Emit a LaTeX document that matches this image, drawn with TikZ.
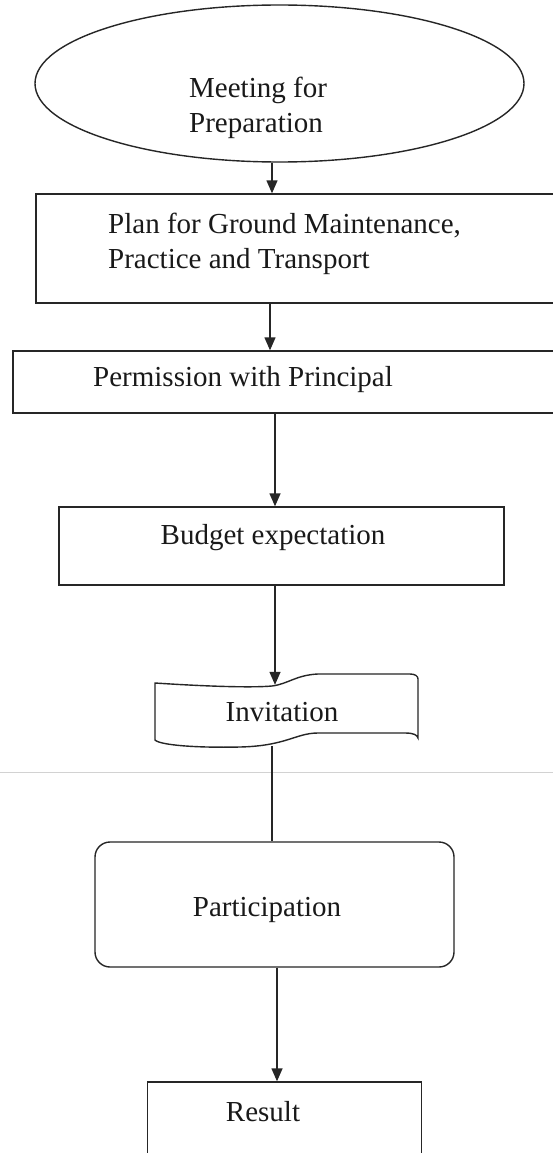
\documentclass[tikz,border=0pt]{standalone}
\usepackage{fontspec}
\setmainfont{Liberation Serif}
\usetikzlibrary{arrows.meta,shapes.geometric}
\begin{document}
\begin{tikzpicture}[x=1pt,y=-1pt,
  every node/.style={font=\fontsize{29}{35}\selectfont, inner sep=0pt, text=black!90},
  shp/.style={draw=black!85, line width=1.4pt},
  lbl/.style={align=left},
  conn/.style={draw=black!85, line width=1.4pt},
  arr/.style={conn, -{Triangle[length=13pt,width=11pt]}}]
\clip (0,0) rectangle (553,1153);
\fill[white] (0,0) rectangle (553,1153);
% scan fold line
\draw[gray!35, line width=0.8pt] (0,772) -- (553,772);

% shapes
\node[shp, ellipse, minimum width=489pt, minimum height=157pt] (meet) at (279.5,83.5) {};
\node[shp, rectangle, minimum width=544pt, minimum height=109pt] (plan) at (308,248.5) {};
\node[shp, rectangle, minimum width=567pt, minimum height=62pt] (perm) at (296.5,382) {};
\node[shp, rectangle, minimum width=445pt, minimum height=78pt] (budget) at (281.5,546) {};
\node[rectangle, minimum width=263pt, minimum height=61pt] (inv) at (286.5,715.5) {};
\draw[shp] (155,683) .. controls (200,686) and (250,688) .. (272,686)
  .. controls (288,684) and (296,675) .. (318,674) -- (410,674)
  .. controls (415,674) and (418,676) .. (418,679) -- (418,738)
  .. controls (417,735) and (414,733) .. (405,733) -- (318,733)
  .. controls (296,733) and (286,746) .. (240,747)
  .. controls (195,748) and (160,745) .. (155,740) -- cycle;
\node[shp, rectangle, rounded corners=15pt, minimum width=359pt, minimum height=125pt] (part) at (274.5,904.5) {};
\node[shp, rectangle, minimum width=274pt, minimum height=110pt] (res) at (284.5,1137) {};

% texts
\node[lbl, anchor=west] (tmeet) at (189,108) {Meeting for\\Preparation};
\node[lbl, anchor=west] (tplan) at (108,244) {Plan for Ground Maintenance,\\Practice and Transport};
\node[anchor=west] (tperm) at (93,380) {Permission with Principal};
\node (tbudget) at (273,538) {Budget expectation};
\node (tinv) at (282,712) {Invitation};
\node (tpart) at (267,910) {Participation};
\node (tres) at (263,1112) {Result};

% connector columns
\coordinate (x1) at (272,0);
\coordinate (x2) at (270,0);
\coordinate (x3) at (275,0);
\coordinate (x5) at (272,0);
\coordinate (x6) at (277,0);

\draw[arr] (meet.south -| x1) -- (plan.north -| x1);
\draw[arr] (plan.south -| x2) -- (perm.north -| x2);
\draw[arr] (perm.south -| x3) -- (budget.north -| x3);
\draw[arr] (budget.south -| x3) -- (inv.north -| x3);
\draw[conn] (inv.south -| x5) -- (part.north -| x5);
\draw[arr] (part.south -| x6) -- (res.north -| x6);
\end{tikzpicture}
\end{document}
